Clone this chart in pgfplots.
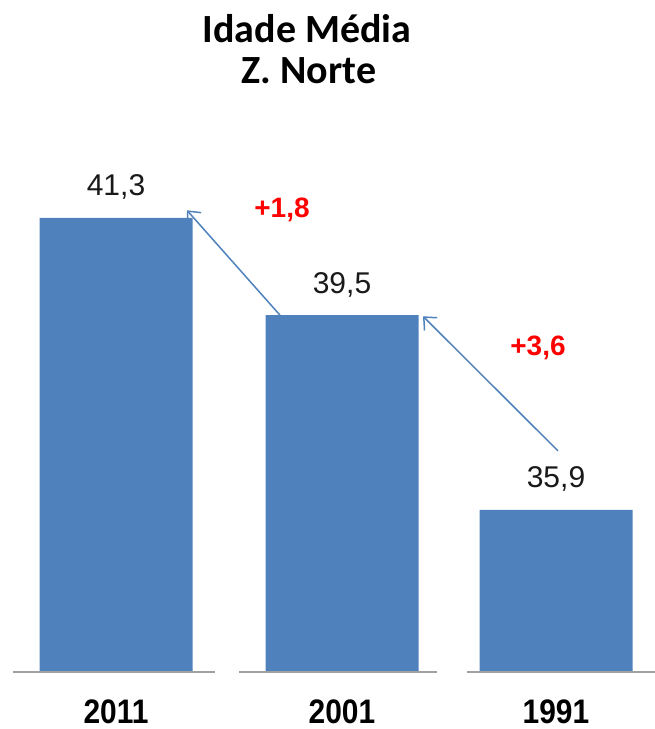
\documentclass[border=0pt]{standalone}
\usepackage{fontspec}
\setmainfont{Liberation Sans}
\newfontfamily\carlito{Carlito}
\usepackage{graphicx}
\usepackage{pgfplots}
\pgfplotsset{compat=1.18}
\usetikzlibrary{arrows.meta}
\definecolor{barblue}{HTML}{4F81BD}
\definecolor{basegray}{HTML}{A0A0A0}
\begin{document}
\begin{tikzpicture}
\useasboundingbox (0,-57pt) rectangle (655pt,672pt);
\begin{axis}[
  scale only axis, width=655pt, height=672pt,
  xmin=0, xmax=655, ymin=32.9, ymax=45.33,
  axis y line=none, axis x line=bottom,
  x axis line style={draw=none,-},
  xtick={116,342,556},
  xticklabels={\scalebox{0.88}[1]{2011},\scalebox{0.88}[1]{2001},\scalebox{0.88}[1]{1991}},
  major tick length=0pt,
  xticklabel style={font=\fontsize{34}{34}\selectfont\bfseries, anchor=base, yshift=-51pt, inner sep=0pt},
  ybar, bar width=153pt,
  /pgf/number format/assume math mode=true,
  nodes near coords,
  nodes near coords style={font=\fontsize{30}{30}\selectfont, text=black!90, anchor=base, yshift=22pt,
     /pgf/number format/.cd, use comma, fixed, fixed zerofill, precision=1},
  clip=false,
]
\addplot[fill=barblue, draw=none] coordinates {(116,41.3) (342,39.5) (556,35.9)};
% baseline segments
\draw[basegray, line width=2pt] (axis cs:13,32.9) -- (axis cs:215,32.9);
\draw[basegray, line width=2pt] (axis cs:239,32.9) -- (axis cs:437,32.9);
\draw[basegray, line width=2pt] (axis cs:467,32.9) -- (axis cs:655,32.9);
% arrows
\draw[barblue, line width=1.5pt, -{Straight Barb[length=10pt,width=18pt]}] (axis cs:280,39.5) -- (axis cs:187,41.44);
\draw[barblue, line width=1.5pt, -{Straight Barb[length=10pt,width=18pt]}] (axis cs:558,36.99) -- (axis cs:423,39.48);
% annotations
\node[anchor=base, text=red, font=\fontsize{28}{28}\selectfont\bfseries] at (axis cs:282,41.3) {+1,8};
\node[anchor=base, text=red, font=\fontsize{28}{28}\selectfont\bfseries] at (axis cs:538,38.76) {+3,6};
% title
\node[anchor=base, font=\carlito\fontsize{40}{40}\selectfont\bfseries] at (axis cs:307,44.55) {Idade Média};
\node[anchor=base, font=\carlito\fontsize{40}{40}\selectfont\bfseries] at (axis cs:309,43.79) {Z. Norte};
\end{axis}
\end{tikzpicture}
\end{document}
